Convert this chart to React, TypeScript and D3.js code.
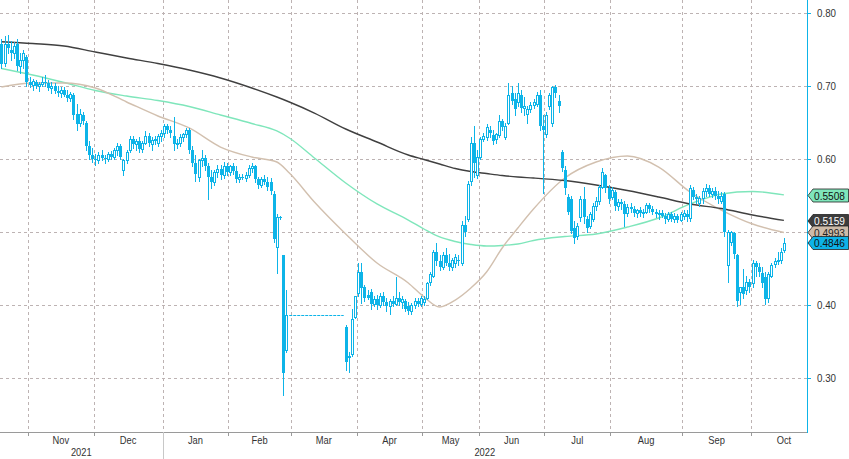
import React from "react";
import * as d3 from "d3";

const W = 849;
const H = 459;

// Month labels and the candle index where each month starts
const monthLabels = ["Nov", "Dec", "Jan", "Feb", "Mar", "Apr", "May", "Jun", "Jul", "Aug", "Sep", "Oct"];
const monthStarts = [9, 30, 52, 73, 93, 114, 135, 153, 174, 195, 218, 240];
const yearLabels = ["2021", "2022"];
const yearStarts = [-1, 52];
const yTicks = [0.3, 0.4, 0.5, 0.6, 0.7, 0.8];

// OHLC candles (null = no trading)
type C = [number, number, number, number] | null;
const candles: C[] = [
  // Oct 2021
  [0.757, 0.765, 0.725, 0.730], [0.732, 0.768, 0.728, 0.758], [0.758, 0.770, 0.745, 0.752],
  [0.750, 0.762, 0.735, 0.745], [0.745, 0.760, 0.738, 0.755], [0.757, 0.764, 0.722, 0.728],
  [0.728, 0.745, 0.718, 0.735], [0.735, 0.750, 0.725, 0.745], [0.740, 0.742, 0.700, 0.705],
  // Nov
  [0.706, 0.712, 0.698, 0.702], [0.702, 0.710, 0.695, 0.707], [0.705, 0.708, 0.697, 0.700],
  [0.700, 0.706, 0.693, 0.703], [0.703, 0.712, 0.700, 0.706], [0.706, 0.715, 0.700, 0.704],
  [0.704, 0.708, 0.694, 0.697], [0.697, 0.705, 0.690, 0.700], [0.700, 0.704, 0.690, 0.693],
  [0.693, 0.700, 0.686, 0.690], [0.690, 0.698, 0.685, 0.695], [0.695, 0.698, 0.686, 0.688],
  [0.688, 0.695, 0.680, 0.684], [0.684, 0.692, 0.680, 0.689], [0.688, 0.690, 0.655, 0.660],
  [0.662, 0.675, 0.640, 0.648], [0.650, 0.668, 0.645, 0.662], [0.660, 0.664, 0.648, 0.652],
  [0.650, 0.652, 0.612, 0.618], [0.618, 0.625, 0.600, 0.605], [0.605, 0.615, 0.596, 0.600],
  // Dec
  [0.600, 0.607, 0.592, 0.598], [0.598, 0.610, 0.595, 0.606], [0.606, 0.612, 0.598, 0.602],
  [0.602, 0.606, 0.594, 0.600], [0.600, 0.610, 0.597, 0.607], [0.607, 0.611, 0.600, 0.603],
  [0.603, 0.615, 0.600, 0.612], [0.612, 0.622, 0.605, 0.618], [0.618, 0.620, 0.600, 0.603],
  [0.585, 0.600, 0.578, 0.598], [0.598, 0.612, 0.595, 0.610], [0.612, 0.632, 0.610, 0.628],
  [0.628, 0.632, 0.615, 0.620], [0.620, 0.628, 0.612, 0.624], [0.624, 0.630, 0.610, 0.614],
  [0.614, 0.625, 0.610, 0.622], [0.622, 0.638, 0.620, 0.632], [0.632, 0.635, 0.618, 0.622],
  [0.620, 0.630, 0.613, 0.626], [0.626, 0.632, 0.620, 0.628], [0.622, 0.634, 0.618, 0.632],
  [0.632, 0.640, 0.625, 0.636],
  // Jan 2022
  [0.636, 0.648, 0.630, 0.645], [0.645, 0.648, 0.635, 0.640], [0.640, 0.645, 0.630, 0.635],
  [0.632, 0.658, 0.612, 0.620], [0.620, 0.628, 0.615, 0.622], [0.622, 0.634, 0.618, 0.630],
  [0.630, 0.636, 0.625, 0.634], [0.634, 0.642, 0.630, 0.640], [0.640, 0.642, 0.608, 0.612],
  [0.612, 0.618, 0.590, 0.595], [0.595, 0.605, 0.570, 0.580], [0.575, 0.600, 0.570, 0.598],
  [0.598, 0.612, 0.590, 0.602], [0.602, 0.606, 0.585, 0.590], [0.590, 0.594, 0.545, 0.575],
  [0.575, 0.585, 0.560, 0.568], [0.568, 0.585, 0.565, 0.582], [0.582, 0.592, 0.575, 0.586],
  [0.586, 0.592, 0.572, 0.578], [0.578, 0.596, 0.574, 0.590], [0.590, 0.595, 0.578, 0.582],
  // Feb
  [0.582, 0.592, 0.578, 0.590], [0.590, 0.595, 0.580, 0.584], [0.584, 0.590, 0.568, 0.572],
  [0.572, 0.580, 0.568, 0.576], [0.576, 0.580, 0.572, 0.574], [0.574, 0.582, 0.570, 0.578],
  [0.578, 0.592, 0.575, 0.588], [0.588, 0.594, 0.582, 0.590], [0.590, 0.592, 0.568, 0.572],
  [0.572, 0.576, 0.560, 0.565], [0.565, 0.575, 0.562, 0.572], [0.572, 0.578, 0.566, 0.568],
  [0.568, 0.575, 0.558, 0.562], [0.568, 0.574, 0.552, 0.556], [0.552, 0.556, 0.486, 0.490],
  [0.480, 0.525, 0.444, 0.520], [0.520, 0.522, 0.518, 0.520], [0.468, 0.468, 0.277, 0.307],
  [0.338, 0.420, 0.335, 0.386], null,
  // Mar (trading halt, then resumption)
  null, null, null, null, null, null, null, null, null, null, null, null, null, null, null, null, null,
  [0.370, 0.372, 0.311, 0.322], [0.330, 0.335, 0.308, 0.328], [0.333, 0.395, 0.330, 0.381],
  [0.384, 0.412, 0.382, 0.412],
  // Apr
  [0.416, 0.457, 0.413, 0.445], [0.445, 0.457, 0.403, 0.423], [0.425, 0.427, 0.405, 0.410],
  [0.414, 0.420, 0.408, 0.410], [0.418, 0.422, 0.395, 0.402], [0.402, 0.412, 0.398, 0.408],
  [0.408, 0.414, 0.395, 0.400], [0.400, 0.416, 0.397, 0.412], [0.412, 0.418, 0.400, 0.404],
  [0.404, 0.410, 0.392, 0.398], [0.398, 0.408, 0.388, 0.405], [0.405, 0.412, 0.398, 0.402],
  [0.402, 0.438, 0.400, 0.410], [0.410, 0.418, 0.400, 0.404], [0.404, 0.412, 0.396, 0.408],
  [0.406, 0.408, 0.392, 0.395], [0.398, 0.404, 0.388, 0.392], [0.392, 0.403, 0.388, 0.400],
  [0.400, 0.410, 0.396, 0.406], [0.406, 0.410, 0.398, 0.402], [0.402, 0.412, 0.398, 0.409],
  // May
  [0.404, 0.412, 0.400, 0.408], [0.410, 0.432, 0.408, 0.430], [0.432, 0.445, 0.428, 0.442],
  [0.440, 0.475, 0.438, 0.472], [0.472, 0.485, 0.455, 0.460], [0.460, 0.468, 0.448, 0.452],
  [0.452, 0.472, 0.450, 0.468], [0.468, 0.478, 0.455, 0.458], [0.458, 0.470, 0.448, 0.452],
  [0.452, 0.465, 0.448, 0.462], [0.458, 0.470, 0.452, 0.466], [0.462, 0.468, 0.455, 0.460],
  [0.458, 0.515, 0.455, 0.510], [0.510, 0.522, 0.495, 0.500], [0.518, 0.570, 0.515, 0.566],
  [0.570, 0.630, 0.565, 0.622], [0.622, 0.645, 0.575, 0.595], [0.578, 0.612, 0.574, 0.603],
  // Jun
  [0.603, 0.630, 0.600, 0.628], [0.628, 0.636, 0.624, 0.632], [0.630, 0.648, 0.626, 0.644],
  [0.640, 0.645, 0.630, 0.635], [0.633, 0.640, 0.620, 0.625], [0.628, 0.636, 0.622, 0.634],
  [0.633, 0.660, 0.630, 0.652], [0.652, 0.655, 0.640, 0.644], [0.630, 0.650, 0.628, 0.645],
  [0.650, 0.704, 0.648, 0.688], [0.690, 0.700, 0.675, 0.680], [0.682, 0.690, 0.660, 0.668],
  [0.678, 0.704, 0.672, 0.690], [0.688, 0.695, 0.665, 0.670], [0.670, 0.685, 0.660, 0.672],
  [0.662, 0.672, 0.650, 0.668], [0.668, 0.678, 0.664, 0.674], [0.674, 0.682, 0.670, 0.678],
  [0.676, 0.692, 0.672, 0.688], [0.688, 0.694, 0.640, 0.645], [0.645, 0.660, 0.553, 0.640],
  // Jul
  [0.634, 0.665, 0.630, 0.660], [0.672, 0.690, 0.668, 0.688], [0.650, 0.700, 0.645, 0.698],
  [0.698, 0.702, 0.685, 0.690], [0.680, 0.688, 0.665, 0.672], [0.610, 0.612, 0.583, 0.588],
  [0.585, 0.590, 0.552, 0.560], [0.548, 0.552, 0.525, 0.528], [0.545, 0.550, 0.498, 0.502],
  [0.505, 0.515, 0.485, 0.492], [0.495, 0.512, 0.490, 0.508], [0.520, 0.550, 0.515, 0.545],
  [0.545, 0.562, 0.512, 0.520], [0.518, 0.522, 0.500, 0.505], [0.508, 0.528, 0.505, 0.525],
  [0.518, 0.540, 0.515, 0.535], [0.535, 0.548, 0.530, 0.542], [0.542, 0.565, 0.538, 0.562],
  [0.562, 0.588, 0.560, 0.582], [0.578, 0.580, 0.555, 0.560], [0.560, 0.565, 0.540, 0.545],
  // Aug
  [0.548, 0.562, 0.545, 0.558], [0.555, 0.558, 0.530, 0.535], [0.535, 0.545, 0.530, 0.541],
  [0.541, 0.545, 0.532, 0.538], [0.538, 0.542, 0.508, 0.525], [0.526, 0.538, 0.522, 0.534],
  [0.534, 0.540, 0.528, 0.532], [0.532, 0.536, 0.522, 0.526], [0.526, 0.532, 0.520, 0.530],
  [0.530, 0.534, 0.522, 0.526], [0.526, 0.532, 0.520, 0.528], [0.528, 0.540, 0.526, 0.537],
  [0.537, 0.540, 0.528, 0.532], [0.532, 0.535, 0.524, 0.528], [0.528, 0.532, 0.520, 0.524],
  [0.524, 0.530, 0.518, 0.526], [0.526, 0.530, 0.520, 0.522], [0.522, 0.526, 0.512, 0.518],
  [0.518, 0.528, 0.515, 0.525], [0.525, 0.528, 0.515, 0.518], [0.518, 0.526, 0.514, 0.522],
  [0.522, 0.525, 0.514, 0.517], [0.517, 0.528, 0.515, 0.525],
  // Sep
  [0.522, 0.530, 0.518, 0.526], [0.524, 0.530, 0.515, 0.520], [0.519, 0.565, 0.515, 0.560],
  [0.558, 0.562, 0.545, 0.548], [0.548, 0.552, 0.540, 0.545], [0.540, 0.550, 0.535, 0.546],
  [0.546, 0.560, 0.540, 0.556], [0.556, 0.566, 0.550, 0.560], [0.560, 0.565, 0.550, 0.552],
  [0.552, 0.560, 0.548, 0.556], [0.556, 0.562, 0.545, 0.550], [0.550, 0.556, 0.540, 0.545],
  [0.543, 0.555, 0.540, 0.550], [0.552, 0.555, 0.495, 0.500], [0.455, 0.503, 0.432, 0.500],
  [0.486, 0.502, 0.482, 0.500], [0.498, 0.500, 0.465, 0.470], [0.468, 0.470, 0.398, 0.405],
  [0.418, 0.425, 0.402, 0.424], [0.424, 0.450, 0.410, 0.415], [0.420, 0.440, 0.415, 0.432],
  [0.432, 0.436, 0.418, 0.425],
  // Oct
  [0.430, 0.462, 0.425, 0.458], [0.458, 0.460, 0.440, 0.452], [0.452, 0.458, 0.440, 0.445],
  [0.444, 0.452, 0.425, 0.430], [0.438, 0.445, 0.402, 0.408], [0.410, 0.445, 0.404, 0.442],
  [0.440, 0.458, 0.438, 0.455], [0.456, 0.464, 0.452, 0.460], [0.460, 0.472, 0.456, 0.462],
  [0.462, 0.478, 0.458, 0.473], [0.475, 0.492, 0.472, 0.4846],
];

// Moving averages read at these candle indices
const maIdx = [0, 10, 20, 30, 40, 50, 60, 70, 80, 88, 92, 100, 110, 120, 130, 135, 140, 145, 150, 155, 160, 165, 170, 180, 190, 200, 210, 220, 230, 240, 250];
const ma200 = [0.7607, 0.7582, 0.7548, 0.7466, 0.7384, 0.7308, 0.7219, 0.7110, 0.6973, 0.6849, 0.6781, 0.6630, 0.6411, 0.6233, 0.6055, 0.5993, 0.5932, 0.5870, 0.5829, 0.5801, 0.5774, 0.5753, 0.5740, 0.5705, 0.5644, 0.5568, 0.5479, 0.5384, 0.5322, 0.5233, 0.5159];
const ma100 = [0.7240, 0.7151, 0.7048, 0.6938, 0.6863, 0.6801, 0.6719, 0.6603, 0.6486, 0.6384, 0.6288, 0.6014, 0.5671, 0.5384, 0.5164, 0.5041, 0.4932, 0.4870, 0.4829, 0.4808, 0.4815, 0.4836, 0.4884, 0.4938, 0.4973, 0.5068, 0.5192, 0.5384, 0.5521, 0.5555, 0.5508];
const ma50 = [0.6986, 0.7041, 0.7041, 0.6973, 0.6781, 0.6589, 0.6425, 0.6164, 0.6027, 0.5959, 0.5808, 0.5411, 0.4973, 0.4575, 0.4301, 0.4110, 0.3973, 0.4068, 0.4233, 0.4452, 0.4781, 0.5055, 0.5315, 0.5740, 0.5959, 0.6041, 0.5890, 0.5548, 0.5301, 0.5110, 0.4993];

const tagLabels = ["0.5508", "0.5159", "0.4993", "0.4846"];
const tagFill = ["#7fe6bb", "#3d3d3d", "#cdbba9", "#0db3e8"];
const tagText = ["#111", "#fff", "#222", "#111"];
const tagY = [195.5, 221, 232.5, 243];

const CYAN = "#0db4e8";
const GRID = "#bdb3b3";
const FONT = "'Liberation Sans','Roboto',sans-serif";

export default function App() {
  const x = d3.scaleLinear().domain([0, 250]).range([1.4, 783.9]);
  const y = d3.scaleLinear().domain([0.4, 0.8]).range([305, 13]);
  const axisX = 807;
  const axisY = 432;

  const gx = (k: number) => Math.round(x(k - 0.5)) + 0.5;

  const line = d3
    .line<number>()
    .x((_, i) => x(maIdx[i]))
    .y((v) => y(v))
    .curve(d3.curveMonotoneX);

  const haltStart = candles.findIndex((c) => c === null);
  let haltEnd = haltStart;
  while (candles[haltEnd] === null) haltEnd++;
  const haltPrice = (candles[haltStart - 1] as number[])[3];

  const bounds = [...monthStarts, 261];

  return (
    <svg
      width={W}
      height={H}
      style={{ position: "absolute", left: 0, top: 0, background: "#fff", fontFamily: FONT }}
    >
      <rect x={0} y={0} width={W} height={H} fill="#fff" />
      {yTicks.map((t) => (
        <line key={"h" + t} x1={0} x2={axisX} y1={Math.round(y(t)) + 0.5} y2={Math.round(y(t)) + 0.5}
          stroke={GRID} strokeDasharray="3,3" strokeWidth={1} />
      ))}
      {monthStarts.map((k) => (
        <line key={"v" + k} x1={gx(k)} x2={gx(k)} y1={0} y2={axisY}
          stroke={GRID} strokeDasharray="3,3" strokeWidth={1} />
      ))}

      <path d={line(ma100) || ""} fill="none" stroke="#7fe6bb" strokeWidth={1.4} />
      <path d={line(ma50) || ""} fill="none" stroke="#d2c0af" strokeWidth={1.4} />
      <path d={line(ma200) || ""} fill="none" stroke="#404040" strokeWidth={1.4} />

      <line x1={x(haltStart - 1) + 3} x2={x(haltEnd) - 2} y1={Math.round(y(haltPrice)) + 0.5} y2={Math.round(y(haltPrice)) + 0.5}
        stroke={CYAN} strokeWidth={1} strokeDasharray="3,1" />

      <g shapeRendering="crispEdges">
        {candles.map((c, i) => {
          if (!c) return null;
          const [o, h, l, cl] = c;
          const cx = Math.round(x(i));
          const yo = y(o), yc = y(cl), yh = y(h), yl = y(l);
          const top = Math.round(Math.min(yo, yc));
          const bot = Math.round(Math.max(yo, yc));
          const up = cl > o;
          const els = [
            <line key="w" x1={cx + 0.5} x2={cx + 0.5} y1={Math.round(yh)} y2={Math.round(yl) + 1} stroke={CYAN} strokeWidth={1} />,
          ];
          if (bot - top < 1) {
            els.push(<rect key="b" x={cx - 1} y={top} width={3} height={1} fill={CYAN} />);
          } else if (up) {
            els.push(<rect key="b" x={cx - 0.5} y={top + 0.5} width={2} height={Math.max(bot - top, 1)} fill="#fff" stroke={CYAN} strokeWidth={1} />);
          } else {
            els.push(<rect key="b" x={cx - 1} y={top} width={3} height={Math.max(bot - top, 1)} fill={CYAN} />);
          }
          return <g key={i}>{els}</g>;
        })}
      </g>

      <line x1={0} x2={axisX} y1={axisY + 0.5} y2={axisY + 0.5} stroke="#9a9a9a" strokeWidth={1} />
      {monthStarts.map((k) => (
        <line key={"t" + k} x1={gx(k)} x2={gx(k)} y1={axisY} y2={axisY + 4} stroke="#9a9a9a" strokeWidth={1} />
      ))}
      <line x1={gx(yearStarts[1])} x2={gx(yearStarts[1])} y1={axisY} y2={H} stroke="#c8c8c8" strokeWidth={1} />
      {monthLabels.map((m, j) => {
        const a = x(bounds[j] - 0.5);
        const len = j < monthLabels.length - 1 ? bounds[j + 1] - bounds[j] : 21;
        const b = x(bounds[j] - 0.5 + len);
        return (
          <text key={m + j} x={(a + b) / 2} y={444} textAnchor="middle" fontSize={11} fill="#333"
            transform={`translate(${(a + b) / 2},0) scale(0.85,1) translate(${-(a + b) / 2},0)`}>{m}</text>
        );
      })}
      {yearLabels.map((yl, j) => {
        const a = j === 0 ? 0 : x(yearStarts[j] - 0.5);
        const b = j === 0 ? x(yearStarts[1] - 0.5) : axisX;
        return (
          <text key={yl} x={(a + b) / 2} y={456.5} textAnchor="middle" fontSize={11} fill="#333"
            transform={`translate(${(a + b) / 2},0) scale(0.85,1) translate(${-(a + b) / 2},0)`}>{yl}</text>
        );
      })}

      <line x1={axisX + 0.5} x2={axisX + 0.5} y1={0} y2={axisY + 1} stroke={CYAN} strokeWidth={1} />
      {yTicks.map((t) => (
        <g key={"r" + t}>
          <line x1={axisX} x2={axisX + 4} y1={Math.round(y(t)) + 0.5} y2={Math.round(y(t)) + 0.5} stroke={CYAN} strokeWidth={1} />
          <text x={817} y={y(t) + 4} fontSize={11} fill="#333" textLength={19} lengthAdjust="spacingAndGlyphs">{t.toFixed(2)}</text>
        </g>
      ))}

      {tagLabels.map((lab, j) => {
        const cy = tagY[j];
        const pts = [
          [axisX + 1, cy],
          [axisX + 6, cy - 6.5],
          [W - 0.5, cy - 6.5],
          [W - 0.5, cy + 6.5],
          [axisX + 6, cy + 6.5],
        ].map((p) => p.join(",")).join(" ");
        return (
          <g key={"tag" + j}>
            <polygon points={pts} fill={tagFill[j]} stroke="#222" strokeWidth={0.8} />
            <text x={814} y={cy + 4} fontSize={11.5} fill={tagText[j]} textLength={31} lengthAdjust="spacingAndGlyphs">{lab}</text>
          </g>
        );
      })}
    </svg>
  );
}
